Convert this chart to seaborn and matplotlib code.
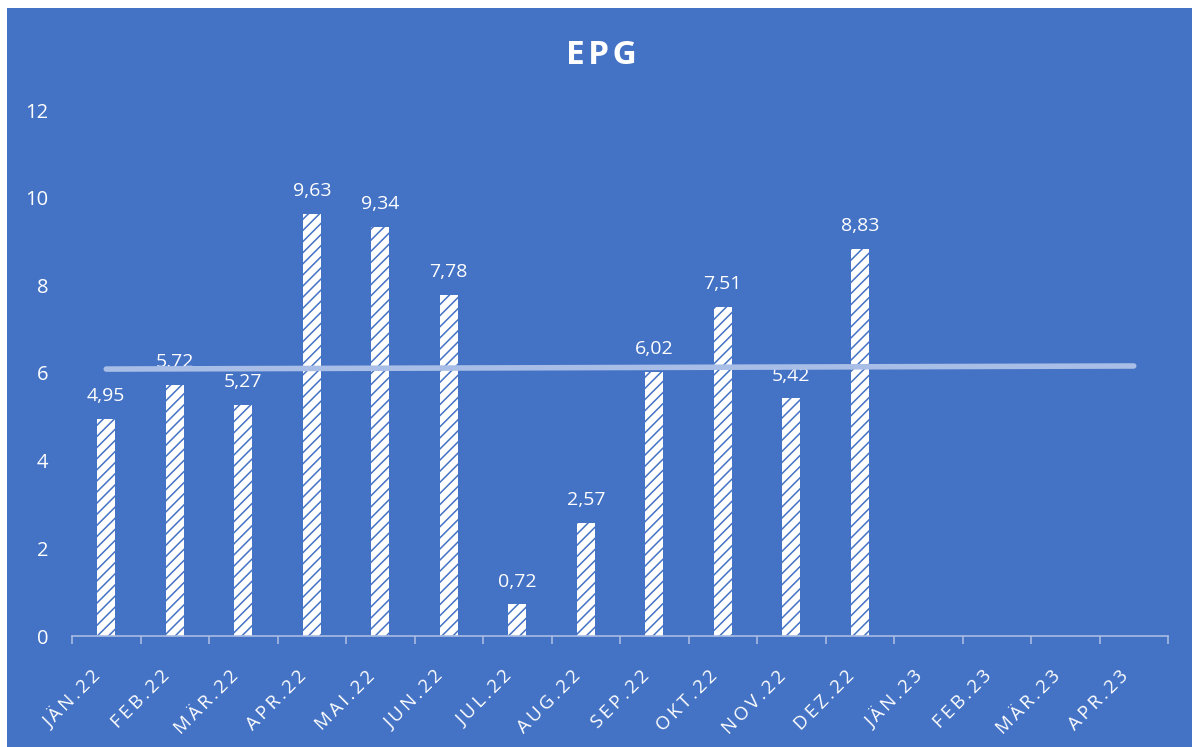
import matplotlib
matplotlib.use("Agg")
import matplotlib.pyplot as plt
import matplotlib.transforms as mtransforms
import seaborn as sns
import pandas as pd
from matplotlib.patches import Rectangle

# Monthly EPG values (Jan 2022 - Apr 2023, later months not yet reported)
months = ["JÄN.22", "FEB.22", "MÄR.22", "APR.22", "MAI.22", "JUN.22",
          "JUL.22", "AUG.22", "SEP.22", "OKT.22", "NOV.22", "DEZ.22",
          "JÄN.23", "FEB.23", "MÄR.23", "APR.23"]
reported_months = months[:12]
epg_values = [4.95, 5.72, 5.27, 9.63, 9.34, 7.78, 0.72, 2.57, 6.02, 7.51, 5.42, 8.83]
# Linear trend line, start and end level
trend_levels = [6.09, 6.16]
y_ticks = [0, 2, 4, 6, 8, 10, 12]
title = "EPG"

BLUE = "#4472C4"
AXIS_COL = "#A9BCE3"


def spaced(text, gap="\u2009"):
    """Letter-spaced version of a label."""
    return gap.join(text)


sns.set_theme(style="white")
plt.rcParams["font.family"] = ["Open Sans", "DejaVu Sans"]
plt.rcParams["hatch.linewidth"] = 1.1
plt.rcParams["hatch.color"] = BLUE

fig = plt.figure(figsize=(11.92, 7.47), dpi=100, facecolor="white")
# blue chart area with thin white margin on the top and left
fig.patches.append(Rectangle((7 / 1192, 0), 1 - 7 / 1192, 1 - 8 / 747,
                             transform=fig.transFigure, facecolor=BLUE,
                             edgecolor="none", zorder=-10))

ax = fig.add_axes([72 / 1192, 1 - 636 / 747, (1168 - 72) / 1192, (636 - 110) / 747])
ax.set_facecolor("none")
ax.set_zorder(2)

df = pd.DataFrame({"Monat": reported_months, "EPG": epg_values})
sns.barplot(data=df, x="Monat", y="EPG", order=months, ax=ax,
            color="white", width=0.26, saturation=1, edgecolor="none",
            linewidth=0, hatch="///")
for bar in ax.patches:
    bar.set_hatch("///")
    bar.set_edgecolor(BLUE)
    bar.set_linewidth(0)

# value labels above the bars
for bar, val in zip(ax.patches, epg_values):
    ax.annotate(f"{val:.2f}".replace(".", ","),
                (bar.get_x() + bar.get_width() / 2, val),
                xytext=(0, 10), textcoords="offset points",
                ha="center", va="bottom", color="white", fontsize=14)

# trend line across the full period
ax.plot([0, len(months) - 1], trend_levels, color="#A9BEE6", lw=4,
        solid_capstyle="round", zorder=3)

ax.set_xlim(-0.5, len(months) - 0.5)
ax.set_ylim(0, 12)
ax.set_yticks(y_ticks)
ax.set_yticklabels([str(t) for t in y_ticks], color="white", fontsize=14.5)
ax.tick_params(axis="y", length=0, pad=17)

ax.set_xticks(range(len(months)))
ax.set_xticklabels([spaced(m) for m in months], rotation=45, ha="right",
                   va="center", rotation_mode="anchor",
                   color="white", fontsize=13.5)
ax.tick_params(axis="x", which="major", length=0, pad=27)
shift = mtransforms.ScaledTranslation(-8 / 100, 0, fig.dpi_scale_trans)
for lbl in ax.get_xticklabels():
    lbl.set_transform(lbl.get_transform() + shift)
ax.set_xticks([i - 0.5 for i in range(len(months) + 1)], minor=True)
ax.tick_params(axis="x", which="minor", length=6, width=1.2,
               color=AXIS_COL, direction="out", bottom=True)

ax.set_xlabel("")
ax.set_ylabel("")
for side in ["top", "right", "left"]:
    ax.spines[side].set_visible(False)
ax.spines["bottom"].set_color(AXIS_COL)
ax.spines["bottom"].set_linewidth(1.2)

fig.text(601 / 1192, 1 - 56 / 747, spaced(title, "\u200a"), ha="center",
         va="center", color="white", fontsize=24, fontweight="bold")

fig.savefig("out.png", dpi=100, facecolor="white")
